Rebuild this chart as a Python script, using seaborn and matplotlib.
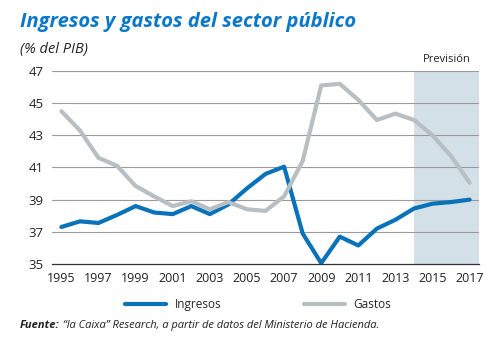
import matplotlib
matplotlib.use("Agg")
import matplotlib.pyplot as plt
import seaborn as sns
import pandas as pd
import numpy as np

years = list(range(1995, 2018))
ingresos = [37.3, 37.65, 37.55, 38.05, 38.6, 38.2, 38.1, 38.6, 38.1, 38.7, 39.7, 40.6, 41.05,
            36.9, 35.05, 36.7, 36.15, 37.2, 37.75, 38.45, 38.75, 38.85, 39.0]
gastos = [44.5, 43.3, 41.6, 41.1, 39.85, 39.2, 38.6, 38.9, 38.4, 38.85, 38.4, 38.3, 39.2,
          41.4, 46.1, 46.2, 45.2, 43.95, 44.35, 43.95, 43.0, 41.7, 40.05]
yticks = [35, 37, 39, 41, 43, 45, 47]
xticks = list(range(1995, 2018, 2))
forecast_start = 2014

title = "Ingresos y gastos del sector público"
subtitle = "(% del PIB)"
shade_label = "Previsión"
source_bold = "Fuente:"
source_rest = " “la Caixa” Research, a partir de datos del Ministerio de Hacienda."

df = pd.DataFrame({
    "year": years * 2,
    "value": ingresos + gastos,
    "serie": ["Ingresos"] * len(years) + ["Gastos"] * len(years),
})

sns.set_style("white")
plt.rcParams["font.family"] = ["Open Sans", "DejaVu Sans"]

BLUE = "#0a72b8"
GREY = "#b7bfc3"
SHADE = "#d3e0e8"

fig = plt.figure(figsize=(5.01, 3.38), dpi=100)
ax = fig.add_axes([0.104, 0.219, 0.852, 0.571])

ax.axvspan(forecast_start, 2017.5, color=SHADE, zorder=0, lw=0)
for y in yticks[1:]:
    ax.axhline(y, color="#9a9a9a", lw=0.8, zorder=1)

sns.lineplot(data=df, x="year", y="value", hue="serie",
             palette={"Ingresos": BLUE, "Gastos": GREY},
             hue_order=["Ingresos", "Gastos"], lw=3, ax=ax, legend=False, zorder=3)

ax.set_xlim(1994.5, 2017.5)
ax.set_ylim(35, 47)
ax.set_yticks(yticks)
ax.set_xticks(years, minor=False)
ax.set_xticklabels([str(y) if y in xticks else "" for y in years])
ax.tick_params(axis="x", direction="in", length=4, width=0.8, color="#333333",
               labelsize=9, pad=6, labelcolor="#222222")
ax.tick_params(axis="y", length=0, labelsize=9.5, pad=6, labelcolor="#222222")
ax.set_xlabel("")
ax.set_ylabel("")
for s in ["top", "right", "left"]:
    ax.spines[s].set_visible(False)
ax.spines["bottom"].set_color("#333333")
ax.spines["bottom"].set_linewidth(0.9)
ax.spines["bottom"].set_zorder(4)

fig.text(0.04, 0.935, title, fontsize=14.5, fontweight="bold", fontstyle="italic",
         color="#0a78c8", ha="left", va="center")
fig.text(0.04, 0.855, subtitle, fontsize=10.5, fontstyle="italic", color="#222222",
         ha="left", va="center")
ax.text((forecast_start + 2017.5) / 2, 47.35, shade_label, fontsize=8, color="#222222",
        ha="center", va="bottom")

from matplotlib.lines import Line2D
handles = [Line2D([], [], color=BLUE, lw=3), Line2D([], [], color=GREY, lw=3)]
fig.legend(handles, ["Ingresos", "Gastos"], loc="center", bbox_to_anchor=(0.515, 0.1),
           ncol=2, frameon=False, fontsize=8.5, handlelength=3.5, columnspacing=7,
           handletextpad=0.7)

t1 = fig.text(0.04, 0.036, source_bold, fontsize=8, fontweight="bold", fontstyle="italic",
              color="#222222", ha="left", va="center")
fig.canvas.draw()
bb = t1.get_window_extent()
x2 = bb.x1 / fig.bbox.width
fig.text(x2, 0.036, source_rest, fontsize=8, fontstyle="italic", color="#222222",
         ha="left", va="center")

fig.savefig("out.png", dpi=100)
